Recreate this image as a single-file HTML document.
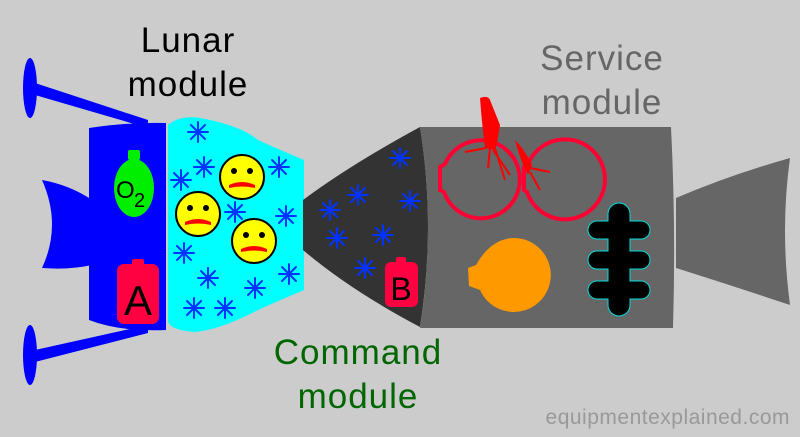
<!DOCTYPE html>
<html><head><style>body{margin:0;background:#ccc}svg{display:block}text{font-family:"Liberation Sans","DejaVu Sans",sans-serif}</style></head>
<body>
<svg width="800" height="437" viewBox="0 0 800 437" xmlns="http://www.w3.org/2000/svg">
<defs>
<g id="st" stroke="#0033ff" stroke-width="2" stroke-linecap="round">
<line x1="-10" y1="0" x2="10" y2="0"/><line x1="0" y1="-10" x2="0" y2="10"/>
<line x1="-7" y1="-7" x2="7" y2="7"/><line x1="-7" y1="7" x2="7" y2="-7"/>
</g>
<g id="face">
<circle r="22" fill="#ffff00" stroke="#000" stroke-width="2"/>
<circle cx="-8" cy="-6" r="3" fill="#000"/><circle cx="8" cy="-6" r="3" fill="#000"/>
<path d="M-13 8 Q0 2 13 8 L13 11 Q0 8 -13 11Z" fill="#ff0000"/>
</g>
</defs>
<rect width="800" height="437" fill="#cccccc"/>
<ellipse cx="30" cy="88" rx="7" ry="30" fill="#0000ff"/>
<ellipse cx="30" cy="355" rx="7" ry="30" fill="#0000ff"/>
<polygon points="35,83 148,120 148,128 35,95" fill="#0000ff"/>
<polygon points="35,350 148,325 148,333 35,362" fill="#0000ff"/>
<path d="M42,180 Q70,185 92,200 L92,265 Q70,270 42,268 Q62,225 42,180Z" fill="#0000ff"/>
<path d="M89,128 Q130,122 166,123 L166,330 Q120,332 89,320Z" fill="#0000ff"/>
<rect x="128" y="150" width="12" height="10" rx="2" fill="#00ee00"/>
<ellipse cx="134" cy="188" rx="20" ry="29" fill="#00ee00"/>
<text x="116" y="198" font-size="24" fill="#000">O</text><text x="134" y="207" font-size="20" fill="#000">2</text>
<rect x="132" y="259" width="12" height="8" rx="2" fill="#ff0040"/>
<rect x="117" y="264" width="42" height="60" rx="7" fill="#ff0040"/>
<text x="138" y="315" font-size="42" fill="#000" text-anchor="middle">A</text>
<path d="M168,125 Q180,115 200,118 Q240,125 258,140 Q280,150 304,160 L304,290 Q280,300 258,310 Q220,330 195,332 Q168,330 168,320Z" fill="#00ffff"/>
<path d="M303,200 Q350,165 420,127 Q436,227 420,327 Q350,290 303,250Z" fill="#333333"/>
<path d="M420,127 L671,127 Q676,227 673,328 L420,328 Q436,227 420,127Z" fill="#666666"/>
<path d="M676,198 Q730,175 790,158 Q780,230 790,305 Q730,285 676,268Z" fill="#666666"/>
<use href="#st" x="198" y="132"/><use href="#st" x="204" y="167"/><use href="#st" x="181" y="180"/>
<use href="#st" x="279" y="167"/><use href="#st" x="235" y="212"/><use href="#st" x="286" y="216"/>
<use href="#st" x="184" y="253"/><use href="#st" x="208" y="278"/><use href="#st" x="289" y="274"/>
<use href="#st" x="255" y="288"/><use href="#st" x="194" y="308"/><use href="#st" x="225" y="308"/>
<use href="#st" x="400" y="158"/><use href="#st" x="358" y="195"/><use href="#st" x="330" y="210"/>
<use href="#st" x="410" y="201"/><use href="#st" x="337" y="238"/><use href="#st" x="383" y="235"/>
<use href="#st" x="365" y="268"/>
<use href="#face" x="242" y="177"/><use href="#face" x="198" y="214"/><use href="#face" x="254" y="241"/>
<rect x="396" y="257" width="10" height="8" rx="2" fill="#ff0040"/>
<rect x="385" y="262" width="33" height="45" rx="6" fill="#ff0040"/>
<text x="401" y="300" font-size="32" fill="#000" text-anchor="middle">B</text>
<path d="M445,164 A39,39 0 1 1 444,192 L440,190 L440,167Z" fill="none" stroke="#ff0033" stroke-width="4"/>
<path d="M528,164 A40,40 0 1 1 527,192 L524,190 L524,167Z" fill="none" stroke="#ff0033" stroke-width="4"/>
<path d="M480,98 Q488,95 490,100 Q494,110 500,125 Q497,145 495,150 L485,148 Q482,125 480,98Z" fill="#ff0000"/>
<path d="M486,148 L465,152 M490,148 L488,168 M493,150 L510,175 M495,148 L505,180" stroke="#ff0000" stroke-width="2" fill="none"/>
<path d="M515,140 Q525,150 532,165 L528,175 Q520,160 515,140Z" fill="#ff0000"/>
<path d="M530,168 L550,172 M530,172 L540,190" stroke="#ff0000" stroke-width="2"/>
<path d="M476,265 Q490,240 512,238 A37,37 0 1 1 480,290 L469,286 L468,268Z" fill="#ff9900"/>
<path d="M608,214 A11,11 0 0 1 630,214 L630,221 L641,221 A9,9 0 0 1 641,239 L630,239 L630,251 L641,251 A9,9 0 0 1 641,269 L630,269 L630,281 L641,281 A9,9 0 0 1 641,299 L630,299 L630,305 A11,11 0 0 1 608,305 L608,299 L597,299 A9,9 0 0 1 597,281 L608,281 L608,269 L597,269 A9,9 0 0 1 597,251 L608,251 L608,239 L597,239 A9,9 0 0 1 597,221 L608,221Z" fill="#000" stroke="#00dddd" stroke-width="1"/>
<text x="188" y="52" font-size="35" fill="#000" text-anchor="middle" letter-spacing="1">Lunar</text>
<text x="188" y="96" font-size="35" fill="#000" text-anchor="middle" letter-spacing="1">module</text>
<text x="602" y="70" font-size="35" fill="#666" text-anchor="middle" letter-spacing="1">Service</text>
<text x="602" y="114" font-size="35" fill="#666" text-anchor="middle" letter-spacing="1">module</text>
<text x="358" y="364" font-size="35" fill="#006600" text-anchor="middle" letter-spacing="1">Command</text>
<text x="358" y="408" font-size="35" fill="#006600" text-anchor="middle" letter-spacing="1">module</text>
<text x="790" y="424" font-size="21" fill="#999" text-anchor="end" letter-spacing="0.5">equipmentexplained.com</text>
</svg>
</body></html>
